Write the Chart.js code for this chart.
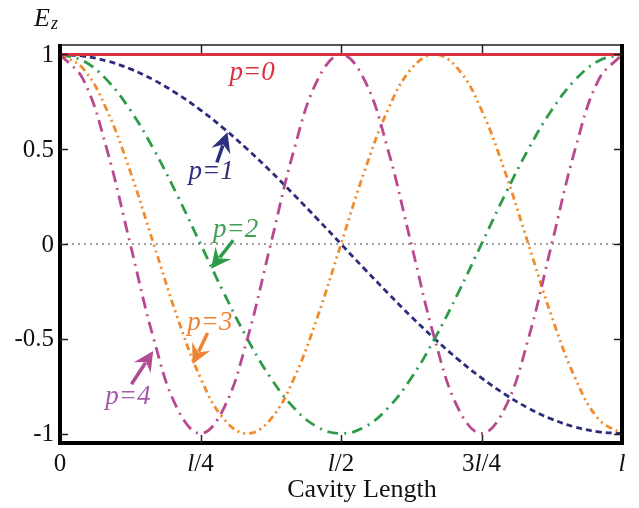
<!DOCTYPE html>
<html>
<head>
<meta charset="utf-8">
<script src="https://cdn.jsdelivr.net/npm/chart.js@4.4.0/dist/chart.umd.min.js"></script>
<style>
  body { margin: 0; background: #fff; }
  canvas { display: block; }
</style>
</head>
<body>
<canvas id="chart" width="639" height="508"></canvas>
<script>
// positions along the cavity, in steps of l/24
const positions = [0,1,2,3,4,5,6,7,8,9,10,11,12,13,14,15,16,17,18,19,20,21,22,23,24];

// field values
const p0 = [1,1,1,1,1,1,1,1,1,1,1,1,1,1,1,1,1,1,1,1,1,1,1,1,1];
const p1 = [1,0.991,0.966,0.924,0.866,0.793,0.707,0.609,0.5,0.383,0.259,0.131,0,-0.131,-0.259,-0.383,-0.5,-0.609,-0.707,-0.793,-0.866,-0.924,-0.966,-0.991,-1];
const p2 = [1,0.966,0.866,0.707,0.5,0.259,0,-0.259,-0.5,-0.707,-0.866,-0.966,-1,-0.966,-0.866,-0.707,-0.5,-0.259,0,0.259,0.5,0.707,0.866,0.966,1];
const p3 = [1,0.924,0.707,0.383,0,-0.383,-0.707,-0.924,-1,-0.924,-0.707,-0.383,0,0.383,0.707,0.924,1,0.924,0.707,0.383,0,-0.383,-0.707,-0.924,-1];
const p4 = [1,0.866,0.5,0,-0.5,-0.866,-1,-0.866,-0.5,0,0.5,0.866,1,0.866,0.5,0,-0.5,-0.866,-1,-0.866,-0.5,0,0.5,0.866,1];
const zeroLine = [0,0,0,0,0,0,0,0,0,0,0,0,0,0,0,0,0,0,0,0,0,0,0,0,0];

const xTicks = [0, 6, 12, 18, 24];
const xTickLabels = ['0', 'l/4', 'l/2', '3l/4', 'l'];
const yTicks = [1, 0.5, 0, -0.5, -1];
const yTickLabels = ['1', '0.5', '0', '-0.5', '-1'];

const SERIF = '"Liberation Serif", "DejaVu Serif", serif';

function pts(ys) {
    return positions.map((x, i) => ({x: x, y: ys[i]}));
}

function series(label, ys, color, dash, order) {
    return {
        label: label,
        data: pts(ys),
        borderColor: color,
        borderWidth: 2.8,
        borderDash: dash,
        pointRadius: 0,
        tension: 0.4,
        fill: false,
        order: order
    };
}

// labels + arrows, placed in data units
const notes = [
    {text: 'p=0', color: '#d9303e', at: [8.2, 0.905]},
    {text: 'p=1', color: '#2d2f7e', at: [6.45, 0.38], from: [6.7, 0.43], to: [7.15, 0.59]},
    {text: 'p=2', color: '#3c9f55', at: [7.5, 0.075], from: [7.4, 0.02], to: [6.45, -0.13]},
    {text: 'p=3', color: '#ef8434', at: [6.4, -0.415], from: [6.3, -0.47], to: [5.66, -0.635]},
    {text: 'p=4', color: '#a65aa6', at: [2.9, -0.805], from: [3.05, -0.74], to: [3.98, -0.565]}
];
const arrowColors = {'p=1': '#2d2f7e', 'p=2': '#2e9b4a', 'p=3': '#ef8434', 'p=4': '#b24c92'};

function drawArrow(ctx, x1, y1, x2, y2, color) {
    const ang = Math.atan2(y2 - y1, x2 - x1);
    const c = Math.cos(ang), s = Math.sin(ang);
    const headLen = 20, headW = 10;
    ctx.save();
    ctx.strokeStyle = color;
    ctx.fillStyle = color;
    ctx.lineWidth = 3.5;
    ctx.beginPath();
    ctx.moveTo(x1, y1);
    ctx.lineTo(x2 - c * headLen * 0.7, y2 - s * headLen * 0.7);
    ctx.stroke();
    ctx.beginPath();
    ctx.moveTo(x2, y2);
    ctx.lineTo(x2 - c * headLen + s * headW, y2 - s * headLen - c * headW);
    ctx.lineTo(x2 - c * headLen * 0.65, y2 - s * headLen * 0.65);
    ctx.lineTo(x2 - c * headLen - s * headW, y2 - s * headLen + c * headW);
    ctx.closePath();
    ctx.fill();
    ctx.restore();
}

// tick label with italic "l" and upright digits
function drawMixed(ctx, str, cx, y, size) {
    const parts = str.split('').map(ch => ({
        ch: ch,
        font: (ch === 'l' ? 'italic ' : '') + size + 'px ' + SERIF
    }));
    let w = 0;
    parts.forEach(p => { ctx.font = p.font; p.w = ctx.measureText(p.ch).width; w += p.w; });
    let x = cx - w / 2;
    parts.forEach(p => {
        ctx.font = p.font;
        ctx.fillText(p.ch, x, y);
        x += p.w;
    });
}

const framePlugin = {
    id: 'frame',
    afterDraw(chart) {
        const {ctx, chartArea: a, scales} = chart;
        const xs = scales.x, ys = scales.y;
        ctx.save();

        // frame
        ctx.strokeStyle = '#555';
        ctx.lineWidth = 2;
        ctx.beginPath();
        ctx.moveTo(a.left, a.top);
        ctx.lineTo(a.right, a.top);
        ctx.stroke();
        ctx.strokeStyle = '#000';
        ctx.lineWidth = 4;
        ctx.beginPath();
        ctx.moveTo(a.left, a.top - 1);
        ctx.lineTo(a.left, a.bottom);
        ctx.lineTo(a.right, a.bottom);
        ctx.lineTo(a.right, a.top - 1);
        ctx.stroke();

        // inward ticks
        ctx.lineWidth = 1.5;
        ctx.strokeStyle = '#222';
        xTicks.slice(1, -1).forEach(v => {
            const px = Math.round(xs.getPixelForValue(v)) + 0.5;
            ctx.beginPath();
            ctx.moveTo(px, a.bottom); ctx.lineTo(px, a.bottom - 8);
            ctx.moveTo(px, a.top); ctx.lineTo(px, a.top + 8);
            ctx.stroke();
        });
        yTicks.forEach(v => {
            const py = Math.round(ys.getPixelForValue(v)) + 0.5;
            ctx.beginPath();
            ctx.moveTo(a.left, py); ctx.lineTo(a.left + 8, py);
            ctx.moveTo(a.right, py); ctx.lineTo(a.right - 8, py);
            ctx.stroke();
        });

        // tick labels
        ctx.fillStyle = '#111';
        ctx.textBaseline = 'alphabetic';
        ctx.textAlign = 'left';
        xTicks.forEach((v, i) => {
            drawMixed(ctx, xTickLabels[i], xs.getPixelForValue(v), a.bottom + 28, 25);
        });
        ctx.font = '25px ' + SERIF;
        ctx.textAlign = 'right';
        ctx.textBaseline = 'middle';
        yTicks.forEach((v, i) => {
            ctx.fillText(yTickLabels[i], a.left - 6, ys.getPixelForValue(v) + 1);
        });

        // axis titles
        ctx.textAlign = 'center';
        ctx.textBaseline = 'alphabetic';
        ctx.font = '26px ' + SERIF;
        ctx.fillText('Cavity Length', 362, 497);
        ctx.textAlign = 'left';
        ctx.font = 'italic 26px ' + SERIF;
        ctx.fillText('E', 34, 26);
        ctx.font = 'italic 18px ' + SERIF;
        ctx.fillText('z', 51, 29);

        // annotations
        notes.forEach(n => {
            if (n.from) {
                drawArrow(ctx, xs.getPixelForValue(n.from[0]), ys.getPixelForValue(n.from[1]),
                          xs.getPixelForValue(n.to[0]), ys.getPixelForValue(n.to[1]), arrowColors[n.text]);
            }
            ctx.fillStyle = n.color;
            ctx.font = 'italic 27px ' + SERIF;
            ctx.textAlign = 'center';
            ctx.textBaseline = 'middle';
            ctx.fillText(n.text, xs.getPixelForValue(n.at[0]), ys.getPixelForValue(n.at[1]));
        });
        ctx.restore();
    }
};

new Chart(document.getElementById('chart'), {
    type: 'line',
    data: {
        datasets: [
            series('p=0', p0, '#d9303e', [], 0),
            series('p=1', p1, '#2b2d7c', [6, 4], 4),
            series('p=2', p2, '#2e9b4a', [11, 6, 2, 6], 3),
            series('p=3', p3, '#f08a2c', [7, 4, 2, 4, 2, 4], 2),
            series('p=4', p4, '#b8488f', [12, 6, 2, 6], 1),
            {
                label: 'zero',
                data: pts(zeroLine),
                borderColor: '#444',
                borderWidth: 1,
                borderDash: [2, 4],
                pointRadius: 0,
                order: 5
            }
        ]
    },
    options: {
        responsive: false,
        animation: false,
        layout: {padding: {top: 45, right: 17, left: 0, bottom: 0}},
        plugins: {legend: {display: false}, tooltip: {enabled: false}},
        scales: {
            x: {
                type: 'linear',
                min: 0,
                max: 24,
                grid: {display: false},
                border: {display: false},
                ticks: {display: false},
                afterFit: s => { s.height = 65; }
            },
            y: {
                min: -1.05,
                max: 1.05,
                grid: {display: false},
                border: {display: false},
                ticks: {display: false},
                afterFit: s => { s.width = 60; }
            }
        }
    },
    plugins: [framePlugin]
});
</script>
</body>
</html>
